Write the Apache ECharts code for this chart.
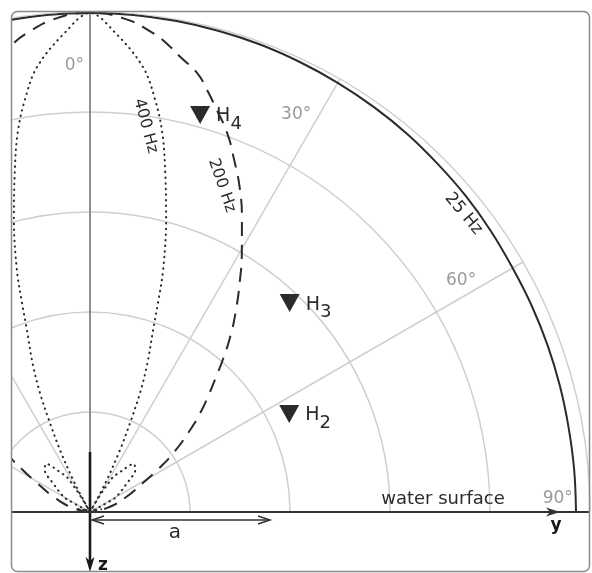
<!DOCTYPE html>
<html>
<head>
<meta charset="utf-8">
<script src="https://cdn.jsdelivr.net/npm/echarts@6/dist/echarts.min.js"></script>
<style>
  html, body { margin: 0; padding: 0; background: #fff; }
  #main { width: 592px; height: 573px; }
</style>
</head>
<body>
<div id="main"></div>
<script>
// Directivity patterns (one half; the other half is the mirror image about 0°)
// angle in degrees from the vertical, radius in units of the grid circles
const ang25 = [0, 5, 10, 15, 20, 25, 30, 35, 40, 45, 50, 55, 60, 65, 70, 75, 80, 85, 90];
const rad25 = [4.99, 4.99, 4.985, 4.98, 4.975, 4.965, 4.955, 4.945, 4.935, 4.92, 4.91, 4.895, 4.88, 4.875, 4.87, 4.865, 4.86, 4.86, 4.86];

const ang200 = [0, 3.8, 7.5, 9.8, 11.2, 13.7, 15.5, 17.2, 19.9, 22, 25, 27.5, 30.4, 32.9, 36, 38.7, 41.1, 43, 45.5, 48.1, 50.6, 54.6, 57.9, 61.3, 67.9, 76.8, 90];
const rad200 = [4.99, 4.95, 4.83, 4.72, 4.64, 4.52, 4.38, 4.24, 4.03, 3.83, 3.55, 3.29, 3.00, 2.76, 2.48, 2.24, 2.02, 1.85, 1.66, 1.48, 1.30, 1.03, 0.80, 0.60, 0.38, 0.17, 0];

const ang400 = [0, 3, 6.8, 9, 10.8, 12.4, 14.6, 16.8, 18, 19.1, 21.2, 22.8, 24.2, 25.8, 28, 30,
                31, 32.5, 33.5, 37, 39.5, 42, 47, 50, 52, 55.5, 58, 61, 64,
                70, 76, 84, 90];
const rad400 = [4.99, 4.80, 4.48, 4.17, 3.86, 3.50, 3.02, 2.53, 2.20, 1.93, 1.58, 1.29, 0.98, 0.69, 0.32, 0,
                0.20, 0.32, 0.42, 0.50, 0.58, 0.65, 0.62, 0.55, 0.47, 0.39, 0.34, 0.28, 0,
                0.06, 0.12, 0.07, 0];

// Hydrophone positions [radius, angle]
const hydroNames = ['2', '3', '4'];
const hydroR = [2.22, 2.89, 4.12];
const hydroA = [63.8, 43.7, 15.5];

// Angle labels
const angleTicks = ['0°', '30°', '60°', '90°'];

function fullPattern(angles, radii) {
  const pts = [];
  for (let i = angles.length - 1; i >= 0; i--) pts.push([radii[i], -angles[i]]);
  for (let i = 1; i < angles.length; i++) pts.push([radii[i], angles[i]]);
  return pts;
}

const FONT = 'DejaVu Sans';
const GRID = '#cfcfcf';
const INK = '#2b2b2b';

const chart = echarts.init(document.getElementById('main'));

const option = {
  animation: false,
  backgroundColor: '#fff',
  polar: { center: [90, 512], radius: 500 },
  angleAxis: {
    type: 'value', min: -90, max: 90, interval: 30,
    startAngle: 180, endAngle: 0, clockwise: true,
    axisLine: { show: false }, axisTick: { show: false }, axisLabel: { show: false },
    splitLine: { show: true, lineStyle: { color: GRID, width: 1.5 } }
  },
  radiusAxis: {
    type: 'value', min: 0, max: 5, interval: 1,
    axisLine: { show: false }, axisTick: { show: false }, axisLabel: { show: false },
    splitLine: { show: true, lineStyle: { color: GRID, width: 1.5 } }
  },
  series: [
    {
      name: '25 Hz', type: 'line', coordinateSystem: 'polar', symbol: 'none', z: 5,
      smooth: 0.4,
      data: fullPattern(ang25, rad25),
      lineStyle: { color: INK, width: 2 }
    },
    {
      name: '200 Hz', type: 'line', coordinateSystem: 'polar', symbol: 'none', z: 5,
      smooth: 0.5,
      data: fullPattern(ang200, rad200),
      lineStyle: { color: INK, width: 2, type: [14, 9] }
    },
    {
      name: '400 Hz', type: 'line', coordinateSystem: 'polar', symbol: 'none', z: 5,
      smooth: 0.35,
      data: fullPattern(ang400, rad400),
      lineStyle: { color: INK, width: 2, type: [0.5, 5.2], cap: 'round' }
    },
    {
      name: 'hydrophones', type: 'scatter', coordinateSystem: 'polar', z: 6,
      symbol: 'triangle', symbolRotate: 180, symbolSize: [20, 18],
      itemStyle: { color: '#2b2b2b', opacity: 1 },
      data: hydroNames.map((n, i) => ({ value: [hydroR[i], hydroA[i]], name: n })),
      label: {
        show: true, position: 'right', distance: 6, offset: [0, 3],
        formatter: p => '{h|H}{s|' + p.name + '}',
        rich: {
          h: { fontFamily: FONT, fontSize: 19, color: INK, lineHeight: 30, verticalAlign: 'top', padding: [4, 0, 0, 0] },
          s: { fontFamily: FONT, fontSize: 18, color: INK, lineHeight: 30, verticalAlign: 'bottom' }
        }
      }
    }
  ]
};
chart.setOption(option);

const P = (r, a) => chart.convertToPixel({ seriesIndex: 0 }, [r, a]);
const O = P(0, 0);
const U = P(1, 90)[0] - O[0];   // pixels per grid unit

function txt(x, y, text, size, color, rot, weight) {
  return {
    type: 'text', x: x, y: y, rotation: (rot || 0) * Math.PI / 180, z: 50,
    style: { text: text, fontFamily: FONT, fontSize: size, fill: color,
             fontWeight: weight || 'normal', align: 'center', verticalAlign: 'middle' }
  };
}
function line(x1, y1, x2, y2, w, c) {
  return { type: 'line', z: 40, shape: { x1, y1, x2, y2 }, style: { stroke: c || INK, lineWidth: w } };
}

const aLen = 1.8 * U;
const lblPos = [[4.47, -2.0], [4.48, 27.4], [4.376, 58.0], [4.68, 88.3]];
const gray = '#9a9a9a';
const elems = [];

// axes: z pointing down, y along the water surface
elems.push(line(O[0], P(5, 0)[1], O[0], O[1], 1, '#444'));
elems.push(line(O[0], O[1] - 0.6 * U, O[0], O[1] + 0.5 * U, 2.6, '#1a1a1a'));
elems.push({ type: 'polygon', z: 41, shape: { points: [[O[0], O[1] + 0.6 * U], [O[0] - 4.5, O[1] + 0.45 * U], [O[0], O[1] + 0.49 * U], [O[0] + 4.5, O[1] + 0.45 * U]] }, style: { fill: '#1a1a1a' } });
elems.push(line(12, O[1], 590, O[1], 2, '#333'));
elems.push({ type: 'polygon', z: 41, shape: { points: [[O[0] + 4.7 * U, O[1]], [O[0] + 4.56 * U, O[1] - 4.5], [O[0] + 4.6 * U, O[1]], [O[0] + 4.56 * U, O[1] + 4.5]] }, style: { fill: '#333' } });

// distance a
const ay = O[1] + 8;
elems.push(line(O[0] + 2, ay, O[0] + aLen, ay, 1.5, '#333'));
elems.push({ type: 'polyline', z: 41, shape: { points: [[O[0] + 14, ay - 4], [O[0] + 2, ay], [O[0] + 14, ay + 4]] }, style: { stroke: '#333', lineWidth: 1.5, fill: null } });
elems.push({ type: 'polyline', z: 41, shape: { points: [[O[0] + aLen - 12, ay - 4], [O[0] + aLen, ay], [O[0] + aLen - 12, ay + 4]] }, style: { stroke: '#333', lineWidth: 1.5, fill: null } });
elems.push(txt(O[0] + 0.85 * U, O[1] + 21, 'a', 20, INK));

elems.push(txt(O[0] + 0.13 * U, O[1] + 54, 'z', 17, '#1a1a1a', 0, 'bold'));
elems.push(txt(O[0] + 4.66 * U, O[1] + 14, 'y', 17, '#1a1a1a', 0, 'bold'));
elems.push(txt(O[0] + 3.53 * U, O[1] - 13, 'water surface', 18, INK));

// angle labels
angleTicks.forEach((t, i) => {
  const p = P(lblPos[i][0], lblPos[i][1]);
  elems.push(txt(p[0], p[1], t, 17, gray));
});

// frequency labels along the curves
let p = P(3.9, 8.2);  elems.push(txt(p[0], p[1], '400 Hz', 16, INK, -75));
p = P(3.52, 22.0);    elems.push(txt(p[0], p[1], '200 Hz', 16, INK, -71));
p = P(4.78, 51.4);    elems.push(txt(p[0], p[1], '25 Hz', 17, INK, -50));

// frame
elems.push({ type: 'rect', z: 90, shape: { x: 0, y: 0, width: 11, height: 573 }, style: { fill: '#fff' } });
elems.push({ type: 'rect', z: 91, shape: { x: 11.5, y: 11.5, width: 578, height: 560, r: 6 }, style: { fill: null, stroke: '#8a8a8a', lineWidth: 1.5 } });

chart.setOption({ graphic: { elements: elems } });
</script>
</body>
</html>
